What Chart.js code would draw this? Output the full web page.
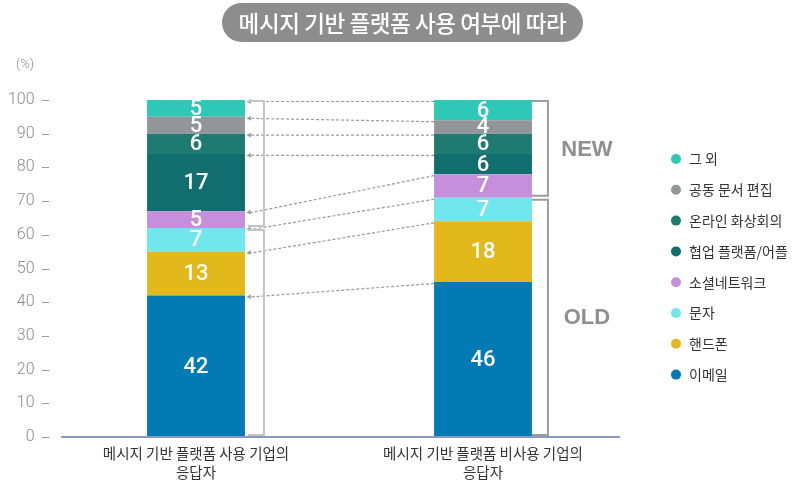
<!DOCTYPE html>
<html>
<head>
<meta charset="utf-8">
<script src="https://cdn.jsdelivr.net/npm/chart.js@4/dist/chart.umd.min.js"></script>
<style>
  html, body { margin: 0; padding: 0; background: #fff; }
  #wrap { position: relative; width: 800px; height: 481px; }
  #title {
    position: absolute; left: 222px; top: 3px; width: 361px; height: 39px;
    border-radius: 20px; background: #8d8d8d; color: #fff;
    font: 500 22.5px "Noto Sans CJK KR", sans-serif; line-height: 39px; text-align: center;
    letter-spacing: -0.4px;
  }
  canvas { position: absolute; left: 0; top: 0; }
</style>
</head>
<body>
<div id="wrap">
  <canvas id="c" width="800" height="481"></canvas>
  <div id="title">메시지 기반 플랫폼 사용 여부에 따라</div>
</div>
<script>
// ---- data ----
const categories = [['메시지 기반 플랫폼 사용 기업의', '응답자'], ['메시지 기반 플랫폼 비사용 기업의', '응답자']];
const seriesNames = ['이메일', '핸드폰', '문자', '소셜네트워크', '협업 플랫폼/어플', '온라인 화상회의', '공동 문서 편집', '그 외'];
const seriesColors = ['#027bb5', '#e2b81a', '#6fe7ec', '#c58fdb', '#116e6f', '#1f7b72', '#949599', '#2ec8b6'];
const email      = [42, 46];
const phone      = [13, 18];
const sms        = [7, 7];
const social     = [5, 7];
const collab     = [17, 6];
const videoConf  = [6, 6];
const docEdit    = [5, 4];
const others     = [5, 6];
const yTicks = [0, 10, 20, 30, 40, 50, 60, 70, 80, 90, 100];
const groupOld = ['이메일', '핸드폰', '문자'];
const groupLabels = ['NEW', 'OLD'];

const seriesValues = [email, phone, sms, social, collab, videoConf, docEdit, others];

const datasets = seriesNames.map((name, i) => ({
  label: name,
  data: seriesValues[i],
  backgroundColor: seriesColors[i],
  borderWidth: 0,
  categoryPercentage: 1,
  barPercentage: 0.341
}));

const decor = {
  id: 'decor',
  afterDatasetsDraw(chart) {
    const ctx = chart.ctx;
    const y = chart.scales.y;
    const nDs = chart.data.datasets.length;
    // data labels
    ctx.save();
    ctx.fillStyle = '#fff';
    ctx.font = '500 22px Roboto, "Liberation Sans", sans-serif';
    ctx.textAlign = 'center';
    ctx.textBaseline = 'middle';
    for (let d = 0; d < nDs; d++) {
      const meta = chart.getDatasetMeta(d);
      meta.data.forEach((bar, i) => {
        const v = chart.data.datasets[d].data[i];
        ctx.fillText(String(v), bar.x, (bar.y + bar.base) / 2 + 1);
      });
    }
    ctx.restore();

    const b0 = chart.getDatasetMeta(0).data[0];
    const b1 = chart.getDatasetMeta(0).data[1];
    const w0 = b0.width, w1 = b1.width;
    const right0 = b0.x + w0 / 2;
    const left1 = b1.x - w1 / 2;
    const right1 = b1.x + w1 / 2;

    // connector dotted arrows
    ctx.save();
    ctx.strokeStyle = '#9a9a9a';
    ctx.fillStyle = '#9a9a9a';
    ctx.lineWidth = 1.2;
    for (let d = 0; d < nDs; d++) {
      const meta = chart.getDatasetMeta(d);
      const yA = meta.data[0].y + 1.5;
      const yB = meta.data[1].y + 1.5;
      const tipX = right0 + 1.5;
      ctx.setLineDash([3, 2]);
      ctx.beginPath();
      ctx.moveTo(left1, yB);
      ctx.lineTo(tipX + 4, yA);
      ctx.stroke();
      ctx.setLineDash([]);
      const ang = Math.atan2(yA - yB, tipX - left1);
      ctx.beginPath();
      ctx.moveTo(tipX, yA);
      ctx.lineTo(tipX - 5 * Math.cos(ang - 0.5), yA - 5 * Math.sin(ang - 0.5));
      ctx.lineTo(tipX - 5 * Math.cos(ang + 0.5), yA - 5 * Math.sin(ang + 0.5));
      ctx.closePath();
      ctx.fill();
    }
    ctx.restore();

    // brackets
    const oldCount = groupOld.length;
    const boundary = i => seriesValues.slice(0, oldCount).reduce((s, a) => s + a[i], 0);
    const top = y.getPixelForValue(100);
    const bot = y.getPixelForValue(0);
    function bracket(x0, x1, ya, yb, color) {
      ctx.save();
      ctx.strokeStyle = color;
      ctx.lineWidth = 2;
      ctx.beginPath();
      ctx.moveTo(x0, ya);
      ctx.lineTo(x1, ya);
      ctx.lineTo(x1, yb);
      ctx.lineTo(x0, yb);
      ctx.stroke();
      ctx.restore();
    }
    const by0 = y.getPixelForValue(boundary(0));
    bracket(right0 + 3, right0 + 19, top + 1, by0 - 2, '#c4c4c4');
    bracket(right0 + 3, right0 + 19, by0 + 2, bot - 2, '#c4c4c4');
    const by1 = y.getPixelForValue(boundary(1));
    bracket(right1, right1 + 16, top + 1, by1 - 2, '#9c9c9c');
    bracket(right1, right1 + 16, by1 + 2, bot - 2, '#9c9c9c');

    ctx.save();
    ctx.fillStyle = '#8f8f8f';
    ctx.font = 'bold 22px "Liberation Sans", Arial, sans-serif';
    ctx.textAlign = 'center';
    ctx.textBaseline = 'middle';
    ctx.fillText(groupLabels[0], right1 + 55, (top + by1) / 2 + 1);
    ctx.fillText(groupLabels[1], right1 + 55, (by1 + bot) / 2 + 1);
    ctx.restore();

    // x axis line
    ctx.save();
    ctx.strokeStyle = '#8b97c7';
    ctx.lineWidth = 2;
    ctx.beginPath();
    ctx.moveTo(61, bot);
    ctx.lineTo(620, bot);
    ctx.stroke();
    ctx.restore();

    // y tick marks
    ctx.save();
    ctx.strokeStyle = '#999';
    ctx.lineWidth = 1;
    yTicks.forEach(t => {
      const py = Math.round(y.getPixelForValue(t)) + 0.5;
      ctx.beginPath();
      ctx.moveTo(42, py);
      ctx.lineTo(49, py);
      ctx.stroke();
    });
    ctx.fillStyle = '#8a8a8a';
    ctx.font = '300 13px Roboto, sans-serif';
    ctx.textAlign = 'center';
    ctx.textBaseline = 'middle';
    ctx.fillText('(%)', 25, 65);
    ctx.restore();

    // legend (reverse order)
    ctx.save();
    ctx.font = '14px "Noto Sans CJK KR", sans-serif';
    ctx.textAlign = 'left';
    ctx.textBaseline = 'middle';
    const ds = chart.data.datasets;
    for (let k = 0; k < ds.length; k++) {
      const d = ds[ds.length - 1 - k];
      const ly = 159 + k * 30.8;
      ctx.fillStyle = d.backgroundColor;
      ctx.beginPath();
      ctx.arc(676, ly, 5, 0, Math.PI * 2);
      ctx.fill();
      ctx.fillStyle = '#333';
      ctx.fillText(d.label, 689, ly);
    }
    ctx.restore();
  }
};

new Chart(document.getElementById('c'), {
  type: 'bar',
  data: { labels: categories, datasets },
  options: {
    responsive: false,
    animation: false,
    events: [],
    layout: { padding: { top: 100, right: 173.5, left: 0, bottom: 0 } },
    plugins: { legend: { display: false }, tooltip: { enabled: false }, title: { display: false } },
    scales: {
      x: {
        stacked: true,
        grid: { display: false },
        border: { display: false },
        ticks: {
          color: '#333',
          font: { family: '"Noto Sans CJK KR", sans-serif', size: 14.5, lineHeight: '19px' },
          padding: -1,
          maxRotation: 0,
          autoSkip: false
        },
        afterFit(s) { s.height = 44; }
      },
      y: {
        stacked: true,
        min: 0, max: 100,
        afterBuildTicks(s) { s.ticks = yTicks.map(v => ({ value: v })); },
        grid: { display: false, drawTicks: false },
        border: { display: false },
        ticks: {
          color: '#8a8a8a',
          font: { family: 'Roboto, sans-serif', size: 16, weight: '300' },
          padding: 18
        },
        afterFit(s) { s.width = 52.5; }
      }
    }
  },
  plugins: [decor]
});
</script>
</body>
</html>
